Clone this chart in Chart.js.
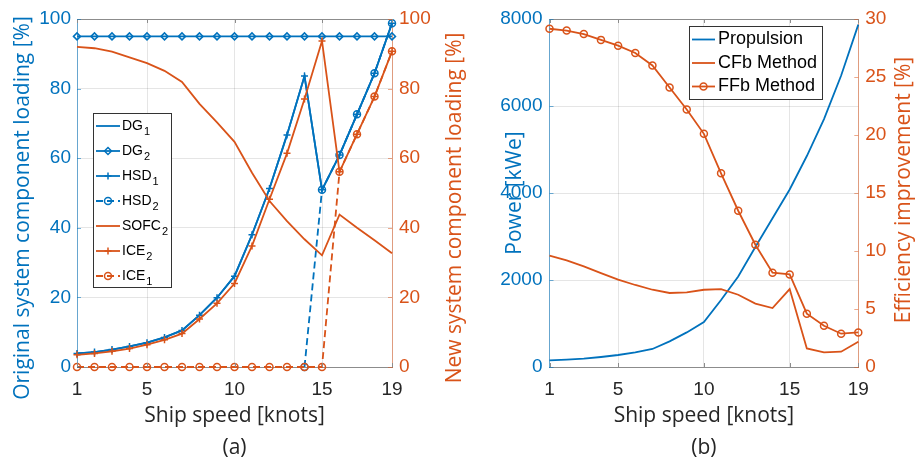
<!DOCTYPE html>
<html>
<head>
<meta charset="utf-8">
<script src="https://cdn.jsdelivr.net/npm/chart.js@4.4.0/dist/chart.umd.min.js"></script>
<style>
  html, body { margin: 0; padding: 0; background: #fff; }
  #wrap { position: relative; width: 919px; height: 461px; overflow: hidden; }
  canvas { position: absolute; top: 0; }
  #chartA { left: 0; }
  #chartB { left: 470px; }
</style>
</head>
<body>
<div id="wrap">
  <canvas id="chartA" width="470" height="461"></canvas>
  <canvas id="chartB" width="449" height="461"></canvas>
</div>
<script>
const speeds = [1, 2, 3, 4, 5, 6, 7, 8, 9, 10, 11, 12, 13, 14, 15, 16, 17, 18, 19];
const speedTicks = [1, 5, 10, 15, 19];

// (a) component loading [%]
const dg1 = [3.9, 4.3, 5.0, 5.9, 7.0, 8.5, 10.5, 14.9, 19.9, 26.1, 38.0, 51.3, 66.7, 83.6, 50.9, 60.9, 72.6, 84.4, 98.8];
const dg2 = [95, 95, 95, 95, 95, 95, 95, 95, 95, 95, 95, 95, 95, 95, 95, 95, 95, 95, 95];
const hsd1 = [3.9, 4.3, 5.0, 5.9, 7.0, 8.5, 10.5, 14.9, 19.9, 26.1, 38.0, 51.3, 66.7, 83.6, 50.9, 60.9, 72.6, 84.4, 98.8];
const hsd2 = [null, null, null, null, null, null, null, null, null, null, null, null, null, 0, 50.9, 60.9, 72.6, 84.4, 98.8];
const sofc2 = [92.0, 91.6, 90.6, 89.0, 87.3, 85.1, 81.9, 75.6, 70.3, 64.7, 55.8, 47.7, 41.9, 36.7, 32.1, 43.8, 40.0, 36.4, 32.7];
const ice2 = [3.5, 3.9, 4.5, 5.3, 6.4, 7.8, 9.6, 13.8, 18.3, 24.0, 34.8, 48.2, 61.4, 77.0, 93.7, 56.1, 66.9, 77.7, 90.7];
const ice1 = [0, 0, 0, 0, 0, 0, 0, 0, 0, 0, 0, 0, 0, 0, 0, 56.1, 66.9, 77.7, 90.7];

// (b) power [kWe] and efficiency improvement [%]
const propulsion = [152, 168, 191, 230, 276, 336, 414, 589, 795, 1034, 1540, 2080, 2760, 3420, 4080, 4850, 5700, 6700, 7870];
const cfb = [9.6, 9.19, 8.67, 8.1, 7.53, 7.07, 6.66, 6.38, 6.43, 6.66, 6.72, 6.23, 5.46, 5.08, 6.72, 1.6, 1.26, 1.32, 2.18];
const ffb = [29.16, 29.0, 28.7, 28.2, 27.7, 27.07, 26.0, 24.1, 22.2, 20.1, 16.7, 13.47, 10.54, 8.13, 7.98, 4.6, 3.56, 2.87, 2.98];

const blue = '#0072BD';
const orange = '#D95319';

Chart.defaults.font.family = '"Liberation Sans", Arial, sans-serif';
Chart.defaults.color = '#262626';

function pts(values) {
    return speeds.map((s, i) => ({x: s, y: values[i]}));
}

// top edge of the axes box plus short inward tick marks
const frameTop = {
    id: 'frameTop',
    afterDatasetsDraw(chart) {
        const {ctx, chartArea: a, scales} = chart;
        const len = 4;
        ctx.save();
        ctx.lineWidth = 1;
        ctx.strokeStyle = '#8c8c8c';
        ctx.beginPath();
        ctx.moveTo(a.left, a.top + 0.5);
        ctx.lineTo(a.right, a.top + 0.5);
        scales.x.ticks.forEach(t => {
            const px = Math.round(scales.x.getPixelForValue(t.value)) + 0.5;
            ctx.moveTo(px, a.bottom);
            ctx.lineTo(px, a.bottom - len);
            ctx.moveTo(px, a.top);
            ctx.lineTo(px, a.top + len);
        });
        ctx.stroke();
        ctx.strokeStyle = 'rgba(0,114,189,0.55)';
        ctx.beginPath();
        scales.y.ticks.forEach(t => {
            const py = Math.round(scales.y.getPixelForValue(t.value)) + 0.5;
            ctx.moveTo(a.left, py);
            ctx.lineTo(a.left + len, py);
        });
        ctx.stroke();
        ctx.strokeStyle = 'rgba(217,83,25,0.5)';
        ctx.beginPath();
        scales.y1.ticks.forEach(t => {
            const py = Math.round(scales.y1.getPixelForValue(t.value)) + 0.5;
            ctx.moveTo(a.right, py);
            ctx.lineTo(a.right - len, py);
        });
        ctx.stroke();
        ctx.restore();
    }
};

// y-axis titles, both read bottom to top
const sideTitles = {
    id: 'sideTitles',
    afterDraw(chart, args, opts) {
        const ctx = chart.ctx;
        opts.items.forEach(t => {
            ctx.save();
            ctx.translate(t.x, t.y);
            ctx.rotate(-Math.PI / 2);
            ctx.font = '21px "Open Sans", sans-serif';
            ctx.fillStyle = t.color;
            ctx.textAlign = 'center';
            ctx.textBaseline = 'middle';
            ctx.fillText(t.text, 0, 0);
            ctx.restore();
        });
    }
};

// boxed legend inside the axes, trailing digit of a label drawn as subscript
const boxLegend = {
    id: 'boxLegend',
    afterDraw(chart, args, o) {
        const ctx = chart.ctx;
        ctx.save();
        ctx.fillStyle = '#fff';
        ctx.fillRect(o.x, o.y, o.w, o.h);
        ctx.strokeStyle = '#333';
        ctx.lineWidth = 1;
        ctx.strokeRect(o.x + 0.5, o.y + 0.5, o.w, o.h);
        chart.data.datasets.forEach((ds, i) => {
            const cy = o.firstRow + i * o.rowGap;
            ctx.strokeStyle = ds.borderColor;
            ctx.lineWidth = ds.borderWidth;
            ctx.setLineDash(ds.borderDash || []);
            ctx.beginPath();
            ctx.moveTo(o.lineX, cy);
            ctx.lineTo(o.lineX + o.lineLen, cy);
            ctx.stroke();
            ctx.setLineDash([]);
            if (ds.pointRadius > 0) {
                ctx.fillStyle = ds.pointBackgroundColor;
                ctx.strokeStyle = ds.pointBorderColor;
                ctx.lineWidth = ds.pointBorderWidth;
                Chart.helpers.drawPoint(ctx, {
                    pointStyle: ds.pointStyle,
                    radius: ds.pointRadius,
                    rotation: 0,
                    borderWidth: ds.pointBorderWidth
                }, o.lineX + o.lineLen / 2, cy);
            }
            const m = ds.label.match(/^(.*?)(\d*)$/);
            ctx.fillStyle = '#000';
            ctx.textAlign = 'left';
            ctx.textBaseline = 'middle';
            ctx.font = o.size + 'px "Liberation Sans", Arial, sans-serif';
            ctx.fillText(m[1], o.textX, cy);
            if (m[2]) {
                const w = ctx.measureText(m[1]).width;
                ctx.font = Math.round(o.size * 0.75) + 'px "Liberation Sans", Arial, sans-serif';
                ctx.fillText(m[2], o.textX + w + 1, cy + o.size * 0.4);
            }
        });
        ctx.restore();
    }
};

function speedAxis(subLabel) {
    return {
        type: 'linear',
        min: 1,
        max: 19,
        afterBuildTicks: scale => { scale.ticks = speedTicks.map(v => ({value: v})); },
        afterFit: scale => { scale.height = 94; },
        grid: {color: 'rgba(38,38,38,0.12)', drawTicks: false},
        border: {color: '#8c8c8c'},
        ticks: {font: {size: 19}, color: '#262626', padding: 11, maxRotation: 0},
        title: {
            display: true,
            text: ['Ship speed [knots]', subLabel],
            font: {family: '"Open Sans", sans-serif', size: 21, lineHeight: '32px'},
            color: '#262626',
            padding: {top: 0, bottom: -3}
        }
    };
}

new Chart(document.getElementById('chartA'), {
    type: 'line',
    data: {
        datasets: [
            {label: 'DG1', data: pts(dg1), yAxisID: 'y', order: 7, borderColor: blue, borderWidth: 1.8, pointRadius: 0, clip: false},
            {label: 'DG2', data: pts(dg2), yAxisID: 'y', order: 6, borderColor: blue, borderWidth: 1.8,
                pointStyle: 'rectRot', pointRadius: 3.5, pointBorderWidth: 1.5, pointBorderColor: blue, pointBackgroundColor: 'rgba(0,0,0,0)', clip: false},
            {label: 'HSD1', data: pts(hsd1), yAxisID: 'y', order: 5, borderColor: blue, borderWidth: 1.8,
                pointStyle: 'cross', pointRadius: 3.5, pointBorderWidth: 1.5, pointBorderColor: blue, pointBackgroundColor: blue, clip: false},
            {label: 'HSD2', data: pts(hsd2), yAxisID: 'y', order: 4, borderColor: blue, borderWidth: 1.8, borderDash: [7, 4],
                pointStyle: 'circle', pointRadius: 3.5, pointBorderWidth: 1.5, pointBorderColor: blue, pointBackgroundColor: 'rgba(0,0,0,0)', clip: false},
            {label: 'SOFC2', data: pts(sofc2), yAxisID: 'y1', order: 3, borderColor: orange, borderWidth: 1.8, pointRadius: 0, clip: false},
            {label: 'ICE2', data: pts(ice2), yAxisID: 'y1', order: 2, borderColor: orange, borderWidth: 1.8,
                pointStyle: 'cross', pointRadius: 3.5, pointBorderWidth: 1.5, pointBorderColor: orange, pointBackgroundColor: orange, clip: false},
            {label: 'ICE1', data: pts(ice1), yAxisID: 'y1', order: 1, borderColor: orange, borderWidth: 1.8, borderDash: [7, 4],
                pointStyle: 'circle', pointRadius: 3.5, pointBorderWidth: 1.5, pointBorderColor: orange, pointBackgroundColor: 'rgba(0,0,0,0)', clip: false}
        ]
    },
    options: {
        responsive: false,
        animation: false,
        events: [],
        devicePixelRatio: 1,
        layout: {padding: {top: 19, left: 0, right: 0, bottom: 0}},
        elements: {line: {tension: 0}},
        scales: {
            x: speedAxis('(a)'),
            y: {
                position: 'left',
                min: 0,
                max: 100,
                afterFit: scale => { scale.width = 77; },
                grid: {color: 'rgba(38,38,38,0.12)', drawTicks: false},
                border: {color: 'rgba(0,114,189,0.55)'},
                ticks: {stepSize: 20, font: {size: 19}, color: blue, padding: 6}
            },
            y1: {
                position: 'right',
                min: 0,
                max: 100,
                afterFit: scale => { scale.width = 78; },
                grid: {display: false, drawTicks: false},
                border: {color: 'rgba(217,83,25,0.5)'},
                ticks: {stepSize: 20, font: {size: 19}, color: orange, padding: 7}
            }
        },
        plugins: {
            legend: {display: false},
            tooltip: {enabled: false},
            sideTitles: {
                items: [
                    {text: 'Original system component loading [%]', x: 23, y: 208, color: blue},
                    {text: 'New system component loading [%]', x: 455, y: 208, color: orange}
                ]
            },
            boxLegend: {x: 93, y: 113, w: 78, h: 174, firstRow: 126, rowGap: 25, lineX: 96, lineLen: 24, textX: 122, size: 14}
        }
    },
    plugins: [frameTop, sideTitles, boxLegend]
});

new Chart(document.getElementById('chartB'), {
    type: 'line',
    data: {
        datasets: [
            {label: 'Propulsion', data: pts(propulsion), yAxisID: 'y', order: 3, borderColor: blue, borderWidth: 1.8, pointRadius: 0, clip: false},
            {label: 'CFb Method', data: pts(cfb), yAxisID: 'y1', order: 2, borderColor: orange, borderWidth: 1.8, pointRadius: 0, clip: false},
            {label: 'FFb Method', data: pts(ffb), yAxisID: 'y1', order: 1, borderColor: orange, borderWidth: 1.8,
                pointStyle: 'circle', pointRadius: 3.5, pointBorderWidth: 1.5, pointBorderColor: orange, pointBackgroundColor: 'rgba(0,0,0,0)', clip: false}
        ]
    },
    options: {
        responsive: false,
        animation: false,
        events: [],
        devicePixelRatio: 1,
        layout: {padding: {top: 19, left: 0, right: 0, bottom: 0}},
        elements: {line: {tension: 0}},
        scales: {
            x: speedAxis('(b)'),
            y: {
                position: 'left',
                min: 0,
                max: 8000,
                afterFit: scale => { scale.width = 79.5; },
                grid: {color: 'rgba(38,38,38,0.12)', drawTicks: false},
                border: {color: 'rgba(0,114,189,0.55)'},
                ticks: {stepSize: 2000, font: {size: 19}, color: blue, padding: 7, callback: v => String(v)}
            },
            y1: {
                position: 'right',
                min: 0,
                max: 30,
                afterFit: scale => { scale.width = 60.7; },
                grid: {display: false, drawTicks: false},
                border: {color: 'rgba(217,83,25,0.5)'},
                ticks: {stepSize: 5, font: {size: 19}, color: orange, padding: 7}
            }
        },
        plugins: {
            legend: {display: false},
            tooltip: {enabled: false},
            sideTitles: {
                items: [
                    {text: 'Power [kWe]', x: 45, y: 193, color: blue},
                    {text: 'Efficiency improvement [%]', x: 434, y: 190, color: orange}
                ]
            },
            boxLegend: {x: 219, y: 26, w: 133, h: 73, firstRow: 39.5, rowGap: 23.5, lineX: 222, lineLen: 23, textX: 248, size: 18}
        }
    },
    plugins: [frameTop, sideTitles, boxLegend]
});
</script>
</body>
</html>
